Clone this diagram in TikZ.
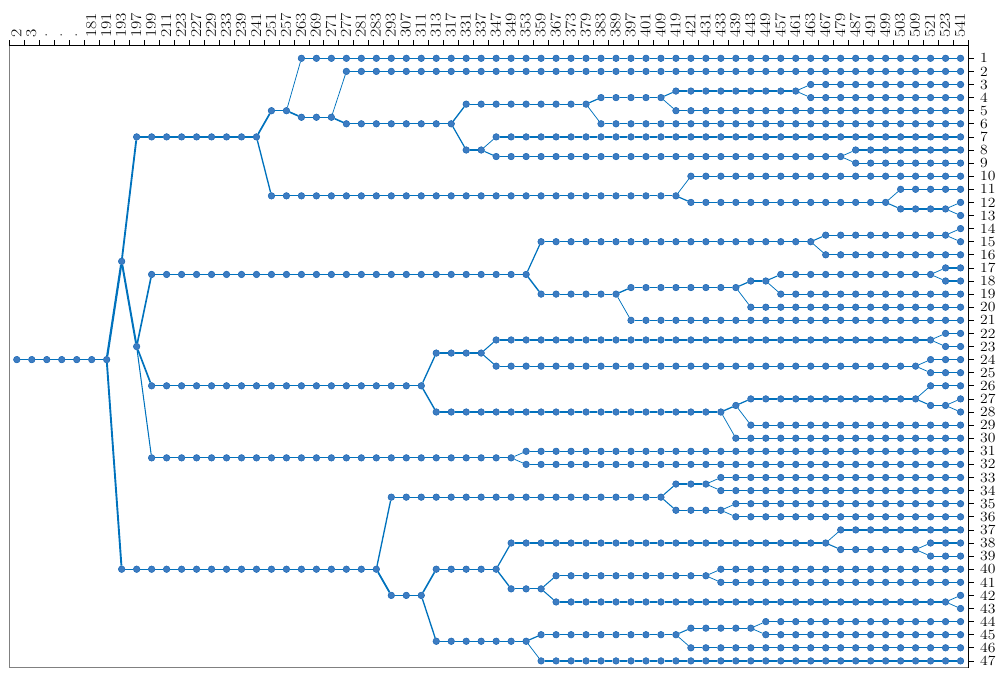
\documentclass[tikz,border=0pt]{standalone}
\usepackage{fontspec}
\pgfdeclarelayer{bg}
\pgfsetlayers{bg,main}
\definecolor{lnc}{HTML}{0072BD}
\definecolor{mkf}{HTML}{3D7CC2}
\definecolor{mkd}{HTML}{1766B4}
\definecolor{frm}{HTML}{808080}
\tikzset{
  mk/.style={circle,inner sep=0pt,minimum size=6.6pt,fill=mkf,draw=mkd,line width=0.5pt},
  hseg/.style={draw=lnc,line width=1.2pt},
  dseg/.style={draw=lnc},
  collab/.style={rotate=90,anchor=west,inner sep=0pt,font=\fontsize{15}{15}\selectfont},
  rowlab/.style={anchor=west,inner sep=0pt,font=\fontsize{14}{14}\selectfont},
  axl/.style={draw=black,line width=0.8pt},
  frl/.style={draw=frm,line width=0.8pt},
}
% #1 name, #2 first leaf, #3 last leaf, #4 start col, #5 end col, #6 parent end node
\newcommand\mkgrp[6]{%
  \pgfmathsetmacro\grpY{58.3+((#2+#3)/2-1)*13.1}%
  \foreach \ci in {#4,...,#5}{\node[mk] (#1-\ci) at ({16.8+14.98*\ci},\grpY) {};}%
  \ifnum#5>#4\relax
    \pgfmathtruncatemacro\grpS{#4+1}%
    \begin{pgfonlayer}{bg}%
    \foreach \ci [evaluate=\ci as \cprev using int(\ci-1)] in {\grpS,...,#5}{\draw[hseg] (#1-\cprev) -- (#1-\ci);}%
    \end{pgfonlayer}%
  \fi
  \if\relax\detokenize{#6}\relax\else
    \pgfmathsetmacro\grpW{0.75+0.42*ln(#3-#2+1)}%
    \begin{pgfonlayer}{bg}\draw[dseg,line width=\grpW pt] (#6) -- (#1-#4);\end{pgfonlayer}%
  \fi
}
\begin{document}
\begin{tikzpicture}[x=1pt,y=-1pt]
\useasboundingbox (0,0) rectangle (1008,672);
% frame and axes
\draw[frl] (9.3,45.3) -- (9.3,667.5) -- (968.3,667.5);
\draw[axl] (9.3,45.3) -- (968.3,45.3) -- (968.3,667.5);
\foreach \k in {0,...,64}{\draw[axl] ({9.3+14.98*\k},40.3) -- ({9.3+14.98*\k},45.3);}
\foreach \lab [count=\i from 0] in {2,3,.,.,.,181,191,193,197,199,211,223,227,229,233,239,241,251,257,263,269,271,277,281,283,293,307,311,313,317,331,337,347,349,353,359,367,373,379,383,389,397,401,409,419,421,431,433,439,443,449,457,461,463,467,479,487,491,499,503,509,521,523,541}{
  \node[collab] (cl-\i) at ({16.3+14.98*\i},37.8) {\scalebox{1.2}[1]{\lab}};
}
\foreach \r in {1,...,47}{
  \draw[axl] (968.3,{58.3+(\r-1)*13.1}) -- (973.6,{58.3+(\r-1)*13.1});
  \node[rowlab] (rl-\r) at (980.0,{58.3+(\r-1)*13.1}) {\scalebox{1.12}[1]{\r}};
}
% tree
\mkgrp{R}{1}{47}{0}{6}{}
\mkgrp{A}{1}{32}{7}{7}{R-6}
\mkgrp{B}{33}{47}{7}{24}{R-6}
\mkgrp{C}{1}{13}{8}{16}{A-7}
\mkgrp{D}{14}{32}{8}{8}{A-7}
\mkgrp{E}{14}{21}{9}{34}{D-8}
\mkgrp{F}{22}{30}{9}{27}{D-8}
\mkgrp{G}{31}{32}{9}{33}{D-8}
\mkgrp{Ca}{1}{9}{17}{18}{C-16}
\mkgrp{Cb}{10}{13}{17}{44}{C-16}
\mkgrp{L1}{1}{1}{19}{63}{Ca-18}
\mkgrp{H}{2}{9}{19}{21}{Ca-18}
\mkgrp{L2}{2}{2}{22}{63}{H-21}
\mkgrp{I}{3}{9}{22}{29}{H-21}
\mkgrp{J}{3}{6}{30}{38}{I-29}
\mkgrp{K}{7}{9}{30}{31}{I-29}
\mkgrp{Ja}{3}{5}{39}{43}{J-38}
\mkgrp{L6}{6}{6}{39}{63}{J-38}
\mkgrp{Jb}{3}{4}{44}{52}{Ja-43}
\mkgrp{L5}{5}{5}{44}{63}{Ja-43}
\mkgrp{L3}{3}{3}{53}{63}{Jb-52}
\mkgrp{L4}{4}{4}{53}{63}{Jb-52}
\mkgrp{L7}{7}{7}{32}{63}{K-31}
\mkgrp{Kb}{8}{9}{32}{55}{K-31}
\mkgrp{L8}{8}{8}{56}{63}{Kb-55}
\mkgrp{L9}{9}{9}{56}{63}{Kb-55}
\mkgrp{L10}{10}{10}{45}{63}{Cb-44}
\mkgrp{M}{11}{13}{45}{58}{Cb-44}
\mkgrp{L11}{11}{11}{59}{63}{M-58}
\mkgrp{N}{12}{13}{59}{62}{M-58}
\mkgrp{L12}{12}{12}{63}{63}{N-62}
\mkgrp{L13}{13}{13}{63}{63}{N-62}
\mkgrp{Ea}{14}{16}{35}{53}{E-34}
\mkgrp{Eb}{17}{21}{35}{40}{E-34}
\mkgrp{P}{14}{15}{54}{62}{Ea-53}
\mkgrp{L16}{16}{16}{54}{63}{Ea-53}
\mkgrp{L14}{14}{14}{63}{63}{P-62}
\mkgrp{L15}{15}{15}{63}{63}{P-62}
\mkgrp{Q}{17}{20}{41}{48}{Eb-40}
\mkgrp{L21}{21}{21}{41}{63}{Eb-40}
\mkgrp{S}{17}{19}{49}{50}{Q-48}
\mkgrp{L20}{20}{20}{49}{63}{Q-48}
\mkgrp{T}{17}{18}{51}{61}{S-50}
\mkgrp{L19}{19}{19}{51}{63}{S-50}
\mkgrp{L17}{17}{17}{62}{63}{T-61}
\mkgrp{L18}{18}{18}{62}{63}{T-61}
\mkgrp{Fa}{22}{25}{28}{31}{F-27}
\mkgrp{Fb}{26}{30}{28}{47}{F-27}
\mkgrp{U}{22}{23}{32}{61}{Fa-31}
\mkgrp{V}{24}{25}{32}{60}{Fa-31}
\mkgrp{L22}{22}{22}{62}{63}{U-61}
\mkgrp{L23}{23}{23}{62}{63}{U-61}
\mkgrp{L24}{24}{24}{61}{63}{V-60}
\mkgrp{L25}{25}{25}{61}{63}{V-60}
\mkgrp{W}{26}{29}{48}{48}{Fb-47}
\mkgrp{L30}{30}{30}{48}{63}{Fb-47}
\mkgrp{X}{26}{28}{49}{60}{W-48}
\mkgrp{L29}{29}{29}{49}{63}{W-48}
\mkgrp{L26}{26}{26}{61}{63}{X-60}
\mkgrp{Y}{27}{28}{61}{62}{X-60}
\mkgrp{L27}{27}{27}{63}{63}{Y-62}
\mkgrp{L28}{28}{28}{63}{63}{Y-62}
\mkgrp{L31}{31}{31}{34}{63}{G-33}
\mkgrp{L32}{32}{32}{34}{63}{G-33}
\mkgrp{Ba}{33}{36}{25}{43}{B-24}
\mkgrp{Bb}{37}{47}{25}{27}{B-24}
\mkgrp{Za}{33}{34}{44}{46}{Ba-43}
\mkgrp{Zb}{35}{36}{44}{47}{Ba-43}
\mkgrp{L33}{33}{33}{47}{63}{Za-46}
\mkgrp{L34}{34}{34}{47}{63}{Za-46}
\mkgrp{L35}{35}{35}{48}{63}{Zb-47}
\mkgrp{L36}{36}{36}{48}{63}{Zb-47}
\mkgrp{Bc}{37}{43}{28}{32}{Bb-27}
\mkgrp{Bd}{44}{47}{28}{34}{Bb-27}
\mkgrp{Be}{37}{39}{33}{54}{Bc-32}
\mkgrp{Bf}{40}{43}{33}{35}{Bc-32}
\mkgrp{L37}{37}{37}{55}{63}{Be-54}
\mkgrp{Bg}{38}{39}{55}{60}{Be-54}
\mkgrp{L38}{38}{38}{61}{63}{Bg-60}
\mkgrp{L39}{39}{39}{61}{63}{Bg-60}
\mkgrp{Bh}{40}{41}{36}{46}{Bf-35}
\mkgrp{Bi}{42}{43}{36}{62}{Bf-35}
\mkgrp{L40}{40}{40}{47}{63}{Bh-46}
\mkgrp{L41}{41}{41}{47}{63}{Bh-46}
\mkgrp{L42}{42}{42}{63}{63}{Bi-62}
\mkgrp{L43}{43}{43}{63}{63}{Bi-62}
\mkgrp{Bj}{44}{46}{35}{44}{Bd-34}
\mkgrp{L47}{47}{47}{35}{63}{Bd-34}
\mkgrp{Bk}{44}{45}{45}{49}{Bj-44}
\mkgrp{L46}{46}{46}{45}{63}{Bj-44}
\mkgrp{L44}{44}{44}{50}{63}{Bk-49}
\mkgrp{L45}{45}{45}{50}{63}{Bk-49}
\end{tikzpicture}
\end{document}
